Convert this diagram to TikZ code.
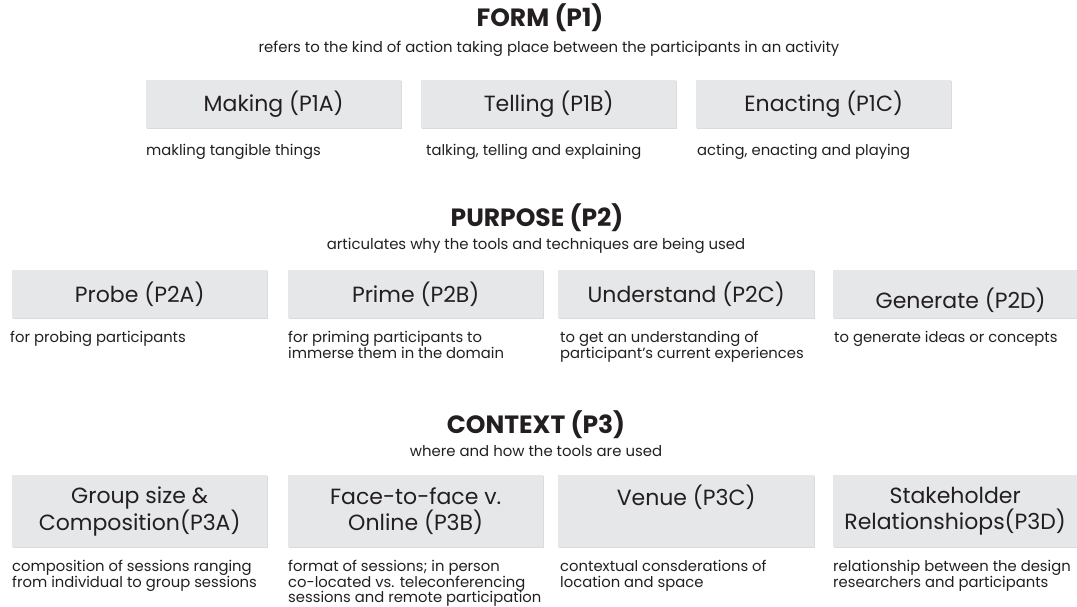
\documentclass[tikz,border=0pt]{standalone}
\usepackage{fontspec}
\setmainfont{Poppins}
\usetikzlibrary{shadows}
\definecolor{boxfill}{HTML}{E6E7E8}
\definecolor{ink}{HTML}{231F20}
\tikzset{
  heading/.style={font=\bfseries\fontsize{25}{28}\selectfont, text=ink, inner sep=0pt},
  subtitle/.style={font=\fontsize{14.9}{16}\selectfont, text=ink, inner sep=0pt},
  catbox/.style={fill=boxfill, draw=none, anchor=north west, minimum width=255pt, inner sep=0pt,
     align=center, font=\fontsize{22}{26}\selectfont, text=ink,
     drop shadow={shadow xshift=1.2pt, shadow yshift=-1.2pt, fill=black!14, opacity=1}},
  desc/.style={anchor=north west, align=left, inner sep=0pt, text=ink,
     font=\fontsize{14.8}{15.7}\selectfont, execute at begin node={\rule{0pt}{11pt}}}
}
\begin{document}
\begin{tikzpicture}[x=1pt,y=-1pt]
\useasboundingbox (0,0) rectangle (1077,607);
\clip (0,0) rectangle (1077,607);
% ---- FORM
\node[heading] (h1) at (540,18) {FORM (P1)};
\node[subtitle] (s1) at (549,49) {refers to the kind of action taking place between the participants in an activity};
\node[catbox, minimum height=48pt] (b1a) at (146,80) {Making (P1A)};
\node[catbox, minimum height=48pt] (b1b) at (421,80) {Telling (P1B)};
\node[catbox, minimum height=48pt] (b1c) at (696,80) {Enacting (P1C)};
\node[desc] (d1a) at (146,144) {makling tangible things};
\node[desc] (d1b) at (426,144) {talking, telling and explaining};
\node[desc] (d1c) at (697,144) {acting, enacting and playing};
% ---- PURPOSE
\node[heading] (h2) at (537,218) {PURPOSE (P2)};
\node[subtitle] (s2) at (536,246) {articulates why the tools and techniques are being used};
\node[catbox, minimum height=48pt] (b2a) at (12,270) {Probe (P2A)};
\node[catbox, minimum height=48pt] (b2b) at (288,270) {Prime (P2B)};
\node[catbox, minimum height=48pt, minimum width=256pt] (b2c) at (558,270) {Understand (P2C)};
\node[catbox, minimum height=48pt] (b2d) at (833,270) {\raisebox{-6pt}[\height][\depth]{Generate (P2D)}};
\node[desc] (d2a) at (10,331) {for probing participants};
\node[desc] (d2b) at (288,331) {for priming participants to\\immerse them in the domain};
\node[desc] (d2c) at (560,331) {to get an understanding of\\participant's current experiences};
\node[desc] (d2d) at (834,331) {to generate ideas or concepts};
% ---- CONTEXT
\node[heading] (h3) at (536,425) {CONTEXT (P3)};
\node[subtitle] (s3) at (536,451) {where and how the tools are used};
\node[catbox, minimum height=72pt] (b3a) at (12,475) {Group size \&\\Composition(P3A)};
\node[catbox, minimum height=72pt] (b3b) at (288,475) {Face-to-face v.\\Online (P3B)};
\node[catbox, minimum height=72pt, minimum width=256pt] (b3c) at (558,475) {Venue (P3C)\\\phantom{Xy}};
\node[catbox, minimum height=72pt, minimum width=244pt] (b3d) at (833,475) {Stakeholder\\Relationshiops(P3D)};
\node[desc] (d3a) at (12,560) {composition of sessions ranging\\from individual to group sessions};
\node[desc] (d3b) at (288,560) {format of sessions; in person\\co-located vs. teleconferencing\\sessions and remote participation};
\node[desc] (d3c) at (560,560) {contextual consderations of\\location and space};
\node[desc] (d3d) at (833,560) {relationship between the design\\researchers and participants};
\end{tikzpicture}
\end{document}
